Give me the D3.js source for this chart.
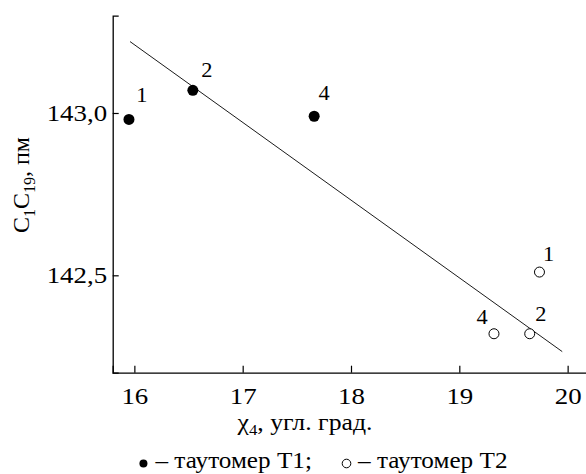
<!DOCTYPE html>
<html>
<head>
<meta charset="utf-8">
<script src="https://cdn.jsdelivr.net/npm/d3@7"></script>
</head>
<body style="margin:0;background:#fff">
<svg id="chart" width="586" height="474"></svg>
<script>
// tautomer T1 (filled) and T2 (open)
const t1Labels = ["1", "2", "4"];
const t1X = [15.95, 16.54, 17.66];
const t1Y = [142.98, 143.07, 142.99];

const t2Labels = ["1", "2", "4"];
const t2X = [19.74, 19.65, 19.32];
const t2Y = [142.51, 142.32, 142.32];

// fitted line end points
const fitX = [15.96, 19.95];
const fitY = [143.22, 142.265];

const xMajor = [16, 17, 18, 19, 20];
const xMinor = [16.5, 17.5, 18.5, 19.5];
const yMajor = [142.5, 143.0];
const yMinor = [142.3, 142.4, 142.6, 142.7, 142.8, 142.9, 143.1, 143.2];

const legendText = ["\u2013 таутомер T1;", "\u2013 таутомер T2"];

const svg = d3.select("#chart");
const serif = px => `font-family:'Liberation Serif',serif;font-size:${px}px`;
// the original figure's lettering is a little wider than it is tall
const SX = 1.12;

const x = d3.scaleLinear().domain([15.8, 20.2]).range([112.7, 589.3]);
const y = d3.scaleLinear().domain([142.2, 143.3]).range([372.7, 15.6]);

const fmt = d => d3.format(".1f")(d).replace(".", ",");

// x axis
const gx = svg.append("g").attr("transform", `translate(0,${y.range()[0]})`);
gx.call(d3.axisBottom(x).tickValues(xMinor).tickSize(-3.5).tickFormat(""));
gx.call(d3.axisBottom(x).tickValues(xMajor).tickSize(-7).tickPadding(14).tickFormat(d3.format("d")));

// y axis
const gy = svg.append("g").attr("transform", `translate(${x.range()[0]},0)`);
gy.call(d3.axisLeft(y).tickValues(yMinor).tickSize(-3.5).tickFormat(""));
gy.call(d3.axisLeft(y).tickValues(yMajor).tickSize(-6).tickPadding(5).tickFormat(fmt));

svg.selectAll(".domain").attr("stroke", "#000").attr("stroke-width", 1.3);
svg.selectAll(".tick line").attr("stroke", "#000").attr("stroke-width", 1.2);
svg.selectAll(".tick text").attr("style", serif(24)).attr("fill", "#000")
  .attr("transform", `scale(${SX},1)`);

// fit line
svg.append("line")
  .attr("x1", x(fitX[0])).attr("y1", y(fitY[0]))
  .attr("x2", x(fitX[1])).attr("y2", y(fitY[1]))
  .attr("stroke", "#000").attr("stroke-width", 0.9);

const t1 = t1X.map((v, i) => ({ x: v, y: t1Y[i], label: t1Labels[i] }));
const t2 = t2X.map((v, i) => ({ x: v, y: t2Y[i], label: t2Labels[i] }));

svg.selectAll(".p1").data(t1).enter().append("circle")
  .attr("cx", d => x(d.x)).attr("cy", d => y(d.y)).attr("r", 5.5).attr("fill", "#000");
svg.selectAll(".p2").data(t2).enter().append("circle")
  .attr("cx", d => x(d.x)).attr("cy", d => y(d.y)).attr("r", 5)
  .attr("fill", "#fff").attr("stroke", "#000").attr("stroke-width", 1);

// point numbers
const t1Off = [[13, -17], [14, -13], [10, -16]];
const t2Off = [[9, -11], [11, -13], [-12, -10]];
svg.selectAll(".l1").data(t1).enter().append("text")
  .attr("transform", (d, i) => `translate(${x(d.x) + t1Off[i][0]},${y(d.y) + t1Off[i][1]}) scale(${SX},1)`)
  .attr("text-anchor", "middle").attr("style", serif(20)).text(d => d.label);
svg.selectAll(".l2").data(t2).enter().append("text")
  .attr("transform", (d, i) => `translate(${x(d.x) + t2Off[i][0]},${y(d.y) + t2Off[i][1]}) scale(${SX},1)`)
  .attr("text-anchor", "middle").attr("style", serif(20)).text(d => d.label);

// axis titles
const xt = svg.append("text").attr("transform", `translate(305,430) scale(${SX},1)`)
  .attr("text-anchor", "middle").attr("style", serif(23));
xt.append("tspan").text("χ");
xt.append("tspan").attr("style", "font-size:15px").attr("dy", 5).text("4");
xt.append("tspan").attr("dy", -5).text(", угл. град.");

const yt = svg.append("text").attr("transform", "translate(29,185) rotate(-90)")
  .attr("text-anchor", "middle").attr("style", serif(24));
yt.append("tspan").text("C");
yt.append("tspan").attr("style", "font-size:16px").attr("dy", 6).text("1");
yt.append("tspan").attr("dy", -6).text("C");
yt.append("tspan").attr("style", "font-size:16px").attr("dy", 6).text("19");
yt.append("tspan").attr("dy", -6).text(", пм");

// legend line, laid out from measured text widths
const lg = svg.append("g");
const lt1 = lg.append("text").attr("style", serif(22.5)).text(legendText[0]);
const lt2 = lg.append("text").attr("style", serif(22.5)).text(legendText[1]);
const w1 = lt1.node().getComputedTextLength() * SX;
const w2 = lt2.node().getComputedTextLength() * SX;
const gap = 30;
const total = 16 + w1 + gap + 16 + w2;
let cx = 323.5 - total / 2;
lg.append("circle").attr("cx", cx + 4).attr("cy", 463.5).attr("r", 4).attr("fill", "#000");
lt1.attr("transform", `translate(${cx + 16},468) scale(${SX},1)`);
cx += 16 + w1 + gap;
lg.append("circle").attr("cx", cx + 4.5).attr("cy", 463.5).attr("r", 4.3)
  .attr("fill", "none").attr("stroke", "#000").attr("stroke-width", 1);
lt2.attr("transform", `translate(${cx + 16},468) scale(${SX},1)`);
</script>
</body>
</html>
